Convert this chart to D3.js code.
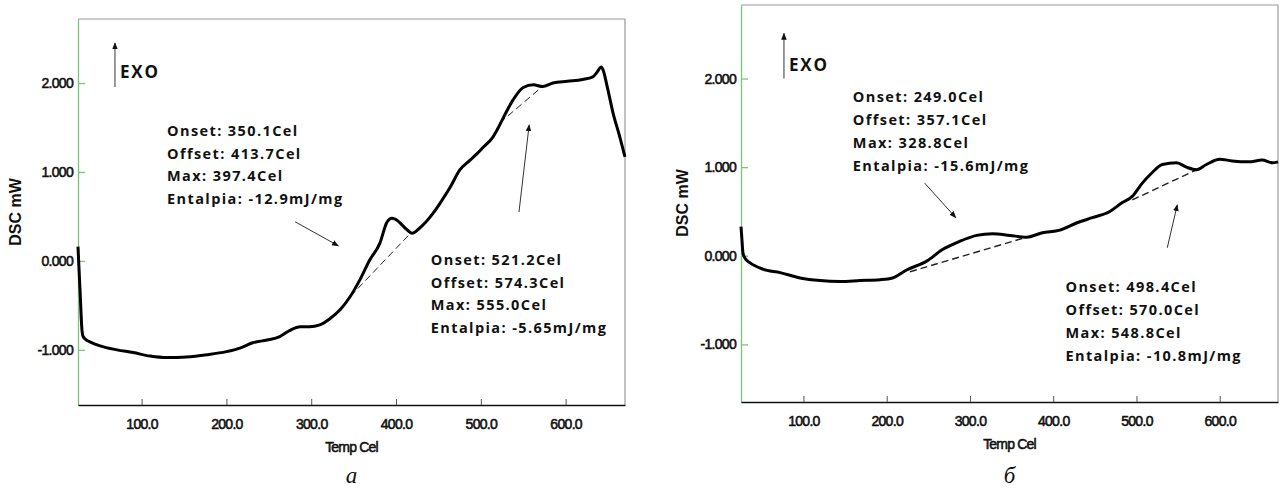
<!DOCTYPE html>
<html>
<head>
<meta charset="utf-8">
<script src="https://cdn.jsdelivr.net/npm/d3@7"></script>
<style>
  body { margin: 0; background: #fff; }
  svg { display: block; }
  .tick text { font-family: "Liberation Sans", Arial, sans-serif; font-size: 14px; letter-spacing: -0.7px; fill: #111; stroke: #111; stroke-width: 0.55px; }
  .note { font-family: "Open Sans", "Noto Sans", sans-serif; font-weight: bold; font-size: 14.5px; letter-spacing: 1.4px; fill: #111; }
  .exo { font-family: "Open Sans", "Noto Sans", sans-serif; font-weight: bold; font-size: 17px; letter-spacing: 1.8px; fill: #111; }
  .axlab { font-family: "Liberation Sans", Arial, sans-serif; font-weight: bold; font-size: 16px; fill: #111; }
  .xlab { font-family: "Liberation Sans", Arial, sans-serif; font-size: 14px; letter-spacing: -0.8px; fill: #111; stroke: #111; stroke-width: 0.55px; }
  .sub { font-family: "Liberation Serif", "DejaVu Serif", serif; font-style: italic; font-size: 23px; fill: #111; }
</style>
</head>
<body>
<script>
// ticks
var xTicks = [100, 200, 300, 400, 500, 600];
var yTicks = [-1, 0, 1, 2];

// panel a
var tempA = [25, 26, 27.4, 29.7, 31, 35, 39, 51, 71, 90, 110, 130, 153, 177, 200, 216, 231, 248, 263, 275, 287, 298, 310, 322, 334, 346, 357.5, 369, 381, 389, 395, 399, 413, 419, 428, 444, 452, 464, 475, 487, 495, 503, 514, 519, 526, 538, 550, 562, 573, 585, 602, 620, 632, 637, 642, 644, 649, 656, 664, 670];
var dscA = [0.16, -0.05, -0.33, -0.78, -0.85, -0.89, -0.91, -0.955, -1.0, -1.03, -1.07, -1.087, -1.08, -1.055, -1.02, -0.98, -0.92, -0.89, -0.85, -0.78, -0.74, -0.74, -0.72, -0.65, -0.55, -0.40, -0.21, 0.01, 0.20, 0.43, 0.48, 0.47, 0.35, 0.31, 0.37, 0.54, 0.65, 0.83, 1.02, 1.13, 1.20, 1.28, 1.39, 1.47, 1.60, 1.81, 1.95, 1.98, 1.96, 2.0, 2.02, 2.04, 2.07, 2.12, 2.18, 2.15, 1.96, 1.66, 1.39, 1.17];
var baseA = [[[346, -0.40], [417, 0.31]], [[522, 1.55], [570, 1.94]]];
var notesA = [
  ["Onset: 350.1Cel", "Offset: 413.7Cel", "Max: 397.4Cel", "Entalpia: -12.9mJ/mg"],
  ["Onset: 521.2Cel", "Offset: 574.3Cel", "Max: 555.0Cel", "Entalpia: -5.65mJ/mg"]
];

// panel b
var tempB = [25, 26, 27.4, 30, 36, 51, 72, 96, 120, 144, 168, 192, 207, 224, 248, 267, 287, 308, 327, 348, 368, 387, 408, 428, 447, 468, 483, 495, 507, 519, 531, 548, 560, 572, 584, 600, 615, 635, 651, 663, 670];
var dscB = [0.33, 0.2, 0.03, -0.03, -0.08, -0.15, -0.19, -0.25, -0.28, -0.29, -0.28, -0.27, -0.25, -0.16, -0.06, 0.07, 0.16, 0.23, 0.25, 0.23, 0.21, 0.26, 0.29, 0.37, 0.43, 0.50, 0.60, 0.67, 0.82, 0.94, 1.03, 1.05, 1.00, 0.97, 1.03, 1.09, 1.07, 1.06, 1.08, 1.05, 1.06];
var baseB = [[[228, -0.18], [368, 0.21]], [[495, 0.63], [572, 0.97]]];
var notesB = [
  ["Onset: 249.0Cel", "Offset: 357.1Cel", "Max: 328.8Cel", "Entalpia: -15.6mJ/mg"],
  ["Onset: 498.4Cel", "Offset: 570.0Cel", "Max: 548.8Cel", "Entalpia: -10.8mJ/mg"]
];

var svg = d3.select('body').append('svg').attr('width', 1284).attr('height', 491);

svg.append('defs').append('marker')
  .attr('id', 'head').attr('viewBox', '0 0 10 10').attr('refX', 9).attr('refY', 5)
  .attr('markerWidth', 7).attr('markerHeight', 7).attr('orient', 'auto-start-reverse')
  .append('path').attr('d', 'M0,1 L10,5 L0,9 z').attr('fill', '#111');

function panel(p) {
  var x = d3.scaleLinear().domain([25, 670]).range([p.left, p.right]);
  var y = d3.scaleLinear().domain(p.ydom).range([p.bottom, p.top]);
  var g = svg.append('g');

  // frame: top and right grey
  g.append('path').attr('d', 'M' + p.left + ',' + p.top + 'H' + p.right + 'V' + p.bottom)
    .attr('fill', 'none').attr('stroke', '#9a9a9a').attr('stroke-width', 1.2);

  var yAxis = d3.axisLeft(y).tickValues(yTicks).tickSizeInner(-7).tickSizeOuter(0).tickPadding(5)
    .tickFormat(function (d) { return d.toFixed(3); });
  var ya = g.append('g').attr('transform', 'translate(' + p.left + ',0)').call(yAxis);
  ya.select('.domain').attr('stroke', '#7cc47c').attr('stroke-width', 1.3);
  ya.selectAll('.tick line').attr('stroke', '#7cc47c').attr('stroke-width', 1.3);

  var xAxis = d3.axisBottom(x).tickValues(xTicks).tickSizeInner(-6).tickSizeOuter(0).tickPadding(14)
    .tickFormat(function (d) { return d.toFixed(1); });
  var xa = g.append('g').attr('transform', 'translate(0,' + p.bottom + ')').call(xAxis);
  xa.select('.domain').attr('stroke', '#111').attr('stroke-width', 1.6);
  xa.selectAll('.tick line').attr('stroke', '#555').attr('stroke-width', 1);

  g.append('text').attr('class', 'xlab').attr('x', (p.left + p.right) / 2).attr('y', p.bottom + 47)
    .attr('text-anchor', 'middle').text('Temp Cel');
  g.append('text').attr('class', 'axlab').attr('transform', 'translate(' + p.ylabX + ',' + p.ylabY + ') rotate(-90)')
    .attr('text-anchor', 'middle').attr('dy', '0.35em').text('DSC mW');
  g.append('text').attr('class', 'sub').attr('x', (p.left + p.right) / 2).attr('y', 483)
    .attr('text-anchor', 'middle').text(p.sub);

  // baselines
  var line = d3.line().x(function (d) { return x(d[0]); }).y(function (d) { return y(d[1]); });
  p.base.forEach(function (b, i) {
    g.append('path').attr('d', line(b)).attr('fill', 'none').attr('stroke', '#222')
      .attr('stroke-width', p.baseW).attr('stroke-dasharray', '7,4');
  });

  // curve
  var pts = p.temp.map(function (t, i) { return [t, p.dsc[i]]; });
  g.append('path').attr('d', line.curve(d3.curveMonotoneX)(pts)).attr('fill', 'none')
    .attr('stroke', '#000').attr('stroke-width', 3).attr('stroke-linejoin', 'round');

  // arrows
  p.arrows.forEach(function (a) {
    g.append('line').attr('x1', x(a[0])).attr('y1', y(a[1])).attr('x2', x(a[2])).attr('y2', y(a[3]))
      .attr('stroke', '#333').attr('stroke-width', 1).attr('marker-end', 'url(#head)');
  });

  // EXO
  g.append('text').attr('class', 'exo').attr('x', x(p.exo[0])).attr('y', y(p.exo[1]))
    .attr('dy', '0.35em').text('EXO');

  // notes
  p.notes.forEach(function (n, k) {
    var pos = p.notePos[k];
    n.forEach(function (s, j) {
      g.append('text').attr('class', 'note').attr('x', x(pos[0])).attr('y', y(pos[1]) + j * p.lineH)
        .attr('dy', '0.35em').text(s);
    });
  });
}

panel({
  left: 78, right: 625, top: 19, bottom: 405, ydom: [-1.62, 2.72],
  temp: tempA, dsc: dscA, base: baseA, baseW: 1, notes: notesA,
  notePos: [[130, 1.46], [441, 0.01]], lineH: 22.6,
  arrows: [[281, 0.44, 332, 0.17], [545, 0.55, 557, 1.53], [68.6, 1.955, 68.6, 2.45]],
  exo: [74.5, 2.12], ylabX: 15, ylabY: 212, sub: 'а'
});

panel({
  left: 741, right: 1278, top: 5, bottom: 402, ydom: [-1.65, 2.83],
  temp: tempB, dsc: dscB, base: baseB, baseW: 1.4, notes: notesB,
  notePos: [[159.3, 1.79], [414.7, -0.35]], lineH: 23,
  arrows: [[245.6, 0.82, 283, 0.43], [537, 0.09, 549, 0.575], [76.6, 2.0, 76.6, 2.51]],
  exo: [82.6, 2.15], ylabX: 682, ylabY: 203, sub: 'б'
});
</script>
</body>
</html>
